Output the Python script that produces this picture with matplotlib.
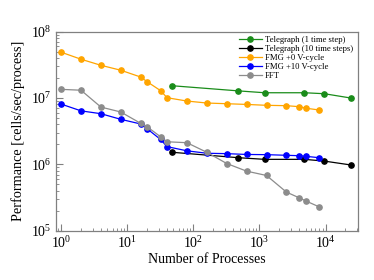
import matplotlib
matplotlib.use("Agg")
import matplotlib.pyplot as plt
from matplotlib.ticker import LogLocator, NullFormatter

plt.rcParams["font.family"] = ["Liberation Serif", "DejaVu Serif"]
plt.rcParams["mathtext.fontset"] = "stix"

# Telegraph runs share process counts
tele_procs = [48, 480, 1200, 4800, 9600, 24000]
tele_1 = [1.53e7, 1.28e7, 1.2e7, 1.2e7, 1.16e7, 1.0e7]
tele_10 = [1.52e6, 1.26e6, 1.19e6, 1.19e6, 1.12e6, 0.98e6]

# FMG / FFT process counts
solver_procs = [1, 2, 4, 8, 16, 20, 32, 40, 80, 160, 320, 640, 1280, 2560, 4000, 5120, 8000]
fmg_0 = [4.9e7, 3.84e7, 3.11e7, 2.62e7, 2.07e7, 1.76e7, 1.29e7, 1.01e7, 9.0e6,
         8.4e6, 8.2e6, 8.0e6, 7.76e6, 7.66e6, 7.4e6, 7.0e6, 6.6e6]
fmg_10 = [8.1e6, 6.4e6, 5.8e6, 4.77e6, 4.06e6, 3.44e6, 2.37e6, 1.85e6, 1.6e6,
          1.47e6, 1.45e6, 1.41e6, 1.4e6, 1.37e6, 1.35e6, 1.32e6, 1.26e6]
fft = [1.35e7, 1.31e7, 7.3e6, 6.15e6, 4.15e6, 3.69e6, 2.6e6, 2.19e6, 2.12e6,
       1.52e6, 1.03e6, 7.9e5, 6.8e5, 3.82e5, 3.13e5, 2.79e5, 2.29e5]

series = [
    ("Telegraph (1 time step)", tele_procs, tele_1, "#1a8c1a"),
    ("Telegraph (10 time steps)", tele_procs, tele_10, "black"),
    ("FMG +0 V-cycle", solver_procs, fmg_0, "#ffa500"),
    ("FMG +10 V-cycle", solver_procs, fmg_10, "#0000ff"),
    ("FFT", solver_procs, fft, "#8c8c8c"),
]

fig = plt.figure(figsize=(3.74, 2.8), dpi=100)
ax = fig.add_axes([0.15, 0.176, 0.806, 0.711])

for label, xs, ys, color in series:
    ax.plot(xs, ys, color=color, marker="o", markersize=3.8, linewidth=0.9, label=label)

ax.set_xscale("log")
ax.set_yscale("log")
ax.set_xlim(0.84, 30500)
ax.set_ylim(1e5, 1e8)

ax.xaxis.set_major_locator(LogLocator(base=10, numticks=10))
ax.xaxis.set_minor_locator(LogLocator(base=10, subs=range(2, 10), numticks=20))
ax.xaxis.set_minor_formatter(NullFormatter())
ax.yaxis.set_minor_locator(LogLocator(base=10, subs=range(2, 10), numticks=20))
ax.yaxis.set_minor_formatter(NullFormatter())

ax.tick_params(which="both", direction="in", colors="#808080", labelcolor="black", labelsize=10)
ax.tick_params(which="major", length=5, width=0.8)
ax.tick_params(which="minor", length=2.5, width=0.6)
for spine in ax.spines.values():
    spine.set_color("#808080")
    spine.set_linewidth(0.9)

ax.set_xlabel("Number of Processes", fontsize=10, labelpad=1)
ax.set_ylabel("Performance [cells/sec/process]", fontsize=10.3)

ax.legend(loc="upper right", frameon=False, fontsize=6.2, handlelength=2.6,
          labelspacing=0.1, borderaxespad=0.1, handletextpad=0.4)

fig.savefig("out.png", dpi=100)
